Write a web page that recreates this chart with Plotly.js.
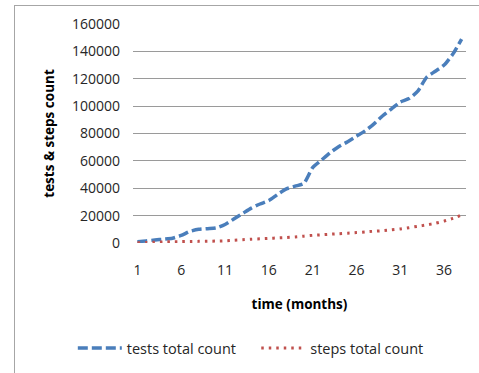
<!DOCTYPE html>
<html>
<head>
<meta charset="utf-8">
<script src="https://cdn.plot.ly/plotly-3.0.1.min.js"></script>
<style>
  html, body { margin: 0; padding: 0; background: #fff; overflow: hidden; width: 479px; height: 373px; }
  #frame { position: absolute; left: 14px; top: 5px; width: 470px; height: 372px;
           border: 1px solid #a6a6a6; box-sizing: border-box; }
  #chart { position: absolute; left: 0; top: 0; width: 479px; height: 373px; }
</style>
</head>
<body>
<div id="frame"></div>
<div id="chart"></div>
<script>
// Month index of each observation
const months = [1, 2, 3, 4, 5, 6, 7, 8, 9, 10, 11, 12, 13, 14, 15, 16, 17, 18, 19,
                20, 21, 22, 23, 24, 25, 26, 27, 28, 29, 30, 31, 32, 33, 34, 35, 36, 37, 38];

// Cumulative number of tests
const testsTotal = [1000, 1500, 2200, 2800, 3500, 5500, 8500, 10000, 10500, 11000,
                    13500, 17500, 21500, 25500, 28500, 31000, 35500, 39500, 41500, 43500,
                    55000, 60500, 66000, 70500, 74000, 78000, 82000, 87000, 93000, 98000,
                    103000, 105500, 111000, 121000, 125500, 130000, 138000, 149000];

// Cumulative number of steps
const stepsTotal = [200, 400, 600, 800, 900, 1000, 1100, 1200, 1300, 1400,
                    1600, 2000, 2400, 2800, 3100, 3400, 3700, 4000, 4400, 5000,
                    5600, 6000, 6400, 6800, 7200, 7600, 8100, 8600, 9000, 9600,
                    10300, 11200, 12200, 13200, 14400, 16000, 18000, 20500];

const xTicks = [1, 6, 11, 16, 21, 26, 31, 36];
const yTicks = [0, 20000, 40000, 60000, 80000, 100000, 120000, 140000, 160000];

const seriesNames = ['tests total count', 'steps total count'];

const font = 'Open Sans, Liberation Sans, sans-serif';

const traces = [
  {
    x: months, y: testsTotal, name: seriesNames[0], type: 'scatter', mode: 'lines',
    legend: 'legend',
    line: { color: '#4a7ebb', width: 3.5, dash: '10px,4px', shape: 'spline', smoothing: 0.6 }
  },
  {
    x: months, y: stepsTotal, name: seriesNames[1], type: 'scatter', mode: 'lines',
    legend: 'legend2',
    line: { color: '#c0504d', width: 3, dash: '2.5px,5px', shape: 'spline', smoothing: 0.6 }
  }
];

// One legend box per series, side by side under the axis title
const legendBase = {
  orientation: 'h',
  xref: 'container', xanchor: 'left',
  yref: 'container', y: 0.067, yanchor: 'middle',
  font: { family: font, size: 14.5, color: '#262626' },
  itemwidth: 44, bgcolor: 'rgba(0,0,0,0)'
};

const layout = {
  width: 479, height: 373,
  margin: { l: 133, r: 13, t: 24, b: 130, autoexpand: false },
  paper_bgcolor: 'rgba(0,0,0,0)',
  plot_bgcolor: 'rgba(0,0,0,0)',
  font: { family: font, size: 14, color: '#262626' },
  showlegend: true,
  legend: Object.assign({}, legendBase, { x: 0.152 }),
  legend2: Object.assign({}, legendBase, { x: 0.535 }),
  xaxis: {
    range: [0.5, 38.5], tickmode: 'array', tickvals: xTicks, ticktext: xTicks.map(String),
    showgrid: false, zeroline: false, showline: false, ticks: '',
    ticklabelstandoff: 17,
    title: { text: '<b>time (months)</b>', font: { family: font, size: 13.5, color: '#000' }, standoff: 21 }
  },
  yaxis: {
    range: [0, 160000], tickmode: 'array', tickvals: yTicks, ticktext: yTicks.map(String),
    showgrid: true, gridcolor: '#9a9a9a', gridwidth: 1, zeroline: false, showline: false, ticks: '',
    ticklabelstandoff: 12,
    title: { text: '<b>tests &amp; steps count</b>', font: { family: font, size: 13.5, color: '#000' }, standoff: 14 }
  }
};

Plotly.newPlot('chart', traces, layout, { staticPlot: true, displayModeBar: false });
</script>
</body>
</html>
